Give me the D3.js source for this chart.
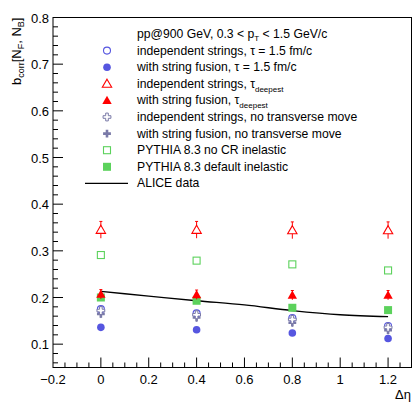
<!DOCTYPE html>
<meta charset="utf-8">
<body style="margin:0;background:#fff">
<svg width="415" height="407"></svg>
<script src="https://cdn.jsdelivr.net/npm/d3@7"></script>
<script>
  // chart values
  var etaPoints = [0, 0.4, 0.8, 1.2]
  var indepTau = [0.175, 0.166, 0.156, 0.139]
  var fusionTau = [0.136, 0.131, 0.124, 0.112]
  var indepDeep = [0.345, 0.345, 0.344, 0.344]
  var indepDeepErr = [0.018, 0.018, 0.018, 0.018]
  var fusionDeep = [0.207, 0.206, 0.205, 0.205]
  var fusionDeepErr = [0.01, 0.01, 0.01, 0.01]
  var indepNoMove = [0.172, 0.163, 0.153, 0.136]
  var fusionNoMove = [0.165, 0.157, 0.146, 0.13]
  var noMoveErr = [0.009, 0.009, 0.009, 0.009]
  var pythiaNoCR = [0.291, 0.279, 0.271, 0.258]
  var pythiaDefault = [0.2, 0.193, 0.178, 0.173]
  var aliceEta = [0, 0.2, 0.4, 0.6, 0.8, 1.0, 1.2]
  var aliceVals = [0.213, 0.203, 0.193, 0.184, 0.172, 0.163, 0.159]
  var xTicks = [-0.2, 0, 0.2, 0.4, 0.6, 0.8, 1, 1.2]
  var yTicks = [0.1, 0.2, 0.3, 0.4, 0.5, 0.6, 0.7, 0.8]

  var svg = d3.select('svg')
  var font = '"Liberation Sans", Arial, sans-serif'
  var frameL = 53, frameR = 411.5, frameT = 17.5, frameB = 367.5

  var x = d3.scaleLinear().domain([-0.2, 1.3]).range([frameL, frameR + 0.5])
  var y = d3.scaleLinear().domain([0.05, 0.8]).range([frameB, frameT])

  // frame
  svg.append('rect')
    .attr('x', frameL).attr('y', frameT)
    .attr('width', frameR - frameL).attr('height', frameB - frameT)
    .attr('fill', 'none').attr('stroke', '#000').attr('stroke-width', 1)

  // ticks
  var g = svg.append('g').attr('stroke', '#000').attr('stroke-width', 1)
  d3.range(-0.15, 1.3, 0.05).forEach(function(v) {
    var major = Math.abs(Math.round(v * 5) - v * 5) < 1e-6
    g.append('line').attr('x1', x(v)).attr('x2', x(v))
      .attr('y1', frameB).attr('y2', frameB - (major ? 10 : 5))
  })
  d3.range(0.06, 0.8, 0.02).forEach(function(v) {
    var major = Math.abs(Math.round(v * 10) - v * 10) < 1e-6
    g.append('line').attr('y1', y(v)).attr('y2', y(v))
      .attr('x1', frameL).attr('x2', frameL + (major ? 10 : 5))
  })

  svg.selectAll('.xt').data(xTicks).enter().append('text')
    .attr('x', function(d) { return x(d) })
    .attr('y', 384)
    .attr('text-anchor', 'middle')
    .attr('font-family', font).attr('font-size', 13)
    .text(function(d) { return d < 0 ? '\u2212' + Math.abs(d) : d })

  svg.selectAll('.yt').data(yTicks).enter().append('text')
    .attr('x', 49)
    .attr('y', function(d) { return y(d) + 5 })
    .attr('text-anchor', 'end')
    .attr('font-family', font).attr('font-size', 13)
    .text(function(d) { return d3.format('.1f')(d) })

  svg.append('text').attr('x', 411).attr('y', 399)
    .attr('text-anchor', 'end').attr('font-family', font).attr('font-size', 13)
    .text('\u0394\u03b7')

  var yl = svg.append('text')
    .attr('transform', 'translate(21,' + frameT + ') rotate(-90)')
    .attr('text-anchor', 'end').attr('font-family', font).attr('font-size', 13)
  yl.append('tspan').text('b')
  yl.append('tspan').attr('font-size', 9).attr('dy', 3).text('corr')
  yl.append('tspan').attr('dy', -3).text('[N')
  yl.append('tspan').attr('font-size', 9).attr('dy', 3).text('F')
  yl.append('tspan').attr('dy', -3).text(', N')
  yl.append('tspan').attr('font-size', 9).attr('dy', 3).text('B')
  yl.append('tspan').attr('dy', -3).text(']')

  // ALICE line
  var line = d3.line().x(function(d, i) { return x(aliceEta[i]) }).y(function(d) { return y(d) })
    .curve(d3.curveMonotoneX)
  svg.append('path').datum(aliceVals).attr('d', line)
    .attr('fill', 'none').attr('stroke', '#000').attr('stroke-width', 1.3)

  var blue = '#5656e0', red = '#ff0000', purple = '#7a7aa8', green = '#5cd25c'
  var symTri = d3.symbol().type(d3.symbolTriangle).size(38)
  var symCross = d3.symbol().type(d3.symbolCross).size(34)

  function marker(sel, kind) {
    if (kind == 'oc') sel.append('circle').attr('r', 3.5).attr('fill', '#fff').attr('stroke', blue).attr('stroke-width', 1.1)
    if (kind == 'fc') sel.append('circle').attr('r', 3.8).attr('fill', blue)
    if (kind == 'ot') sel.append('path').attr('d', symTri()).attr('transform', 'translate(0,0.8)').attr('fill', '#fff').attr('stroke', red).attr('stroke-width', 1.1)
    if (kind == 'ft') sel.append('path').attr('d', symTri()).attr('transform', 'translate(0,0.8)').attr('fill', red)
    if (kind == 'ox') sel.append('path').attr('d', symCross()).attr('fill', '#fff').attr('stroke', purple).attr('stroke-width', 1)
    if (kind == 'fx') sel.append('path').attr('d', symCross()).attr('fill', purple)
    if (kind == 'os') sel.append('rect').attr('x', -3.5).attr('y', -3.5).attr('width', 7).attr('height', 7).attr('fill', '#fff').attr('stroke', green).attr('stroke-width', 1.1)
    if (kind == 'fs') sel.append('rect').attr('x', -4).attr('y', -4).attr('width', 8).attr('height', 8).attr('fill', green)
  }

  function series(vals, errs, kind, color) {
    var grp = svg.append('g')
    if (errs) {
      grp.selectAll('line').data(vals).enter().append('line')
        .attr('x1', function(d, i) { return x(etaPoints[i]) })
        .attr('x2', function(d, i) { return x(etaPoints[i]) })
        .attr('y1', function(d, i) { return y(d - errs[i]) })
        .attr('y2', function(d, i) { return y(d + errs[i]) })
        .attr('stroke', color).attr('stroke-width', 1)
      grp.selectAll('.cap').data(vals).enter().append('line')
        .attr('x1', function(d, i) { return x(etaPoints[i]) - 1.5 })
        .attr('x2', function(d, i) { return x(etaPoints[i]) + 1.5 })
        .attr('y1', function(d, i) { return y(d + errs[i]) })
        .attr('y2', function(d, i) { return y(d + errs[i]) })
        .attr('stroke', color).attr('stroke-width', 1)
    }
    vals.forEach(function(v, i) {
      marker(grp.append('g').attr('transform', 'translate(' + x(etaPoints[i]) + ',' + y(v) + ')'), kind)
    })
  }

  series(pythiaNoCR, null, 'os', green)
  series(pythiaDefault, null, 'fs', green)
  series(indepDeep, indepDeepErr, 'ot', red)
  series(fusionDeep, fusionDeepErr, 'ft', red)
  series(fusionTau, null, 'fc', blue)
  series(fusionNoMove, noMoveErr, 'fx', purple)
  series(indepTau, null, 'oc', blue)
  series(indepNoMove, noMoveErr, 'ox', purple)

  // legend
  var legX = 137, mX = 107, legY0 = 34, step = 16.6
  var title = svg.append('text').attr('x', legX).attr('y', legY0 + 4)
    .attr('font-family', font).attr('font-size', 12.2)
  title.append('tspan').text('pp@900 GeV, 0.3 < p')
  title.append('tspan').attr('font-size', 8).attr('dy', 3).text('T')
  title.append('tspan').attr('dy', -3).text(' < 1.5 GeV/c')

  var legItems = [
    ['oc', 'independent strings, \u03c4 = 1.5 fm/c'],
    ['fc', 'with string fusion, \u03c4 = 1.5 fm/c'],
    ['ot', 'independent strings, \u03c4|deepest'],
    ['ft', 'with string fusion, \u03c4|deepest'],
    ['ox', 'independent strings, no transverse move'],
    ['fx', 'with string fusion, no transverse move'],
    ['os', 'PYTHIA 8.3 no CR inelastic'],
    ['fs', 'PYTHIA 8.3 default inelastic'],
    ['line', 'ALICE data']
  ]
  legItems.forEach(function(it, i) {
    var yy = legY0 + step * (i + 1)
    if (it[0] == 'line') {
      svg.append('line').attr('x1', 85).attr('x2', 128).attr('y1', yy).attr('y2', yy)
        .attr('stroke', '#000').attr('stroke-width', 1.3)
    } else {
      marker(svg.append('g').attr('transform', 'translate(' + mX + ',' + yy + ')'), it[0])
    }
    var t = svg.append('text').attr('x', legX).attr('y', yy + 4)
      .attr('font-family', font).attr('font-size', 12.2)
    var parts = it[1].split('|')
    t.append('tspan').text(parts[0])
    if (parts[1]) t.append('tspan').attr('font-size', 8).attr('dy', 4).text(parts[1])
  })
</script>
